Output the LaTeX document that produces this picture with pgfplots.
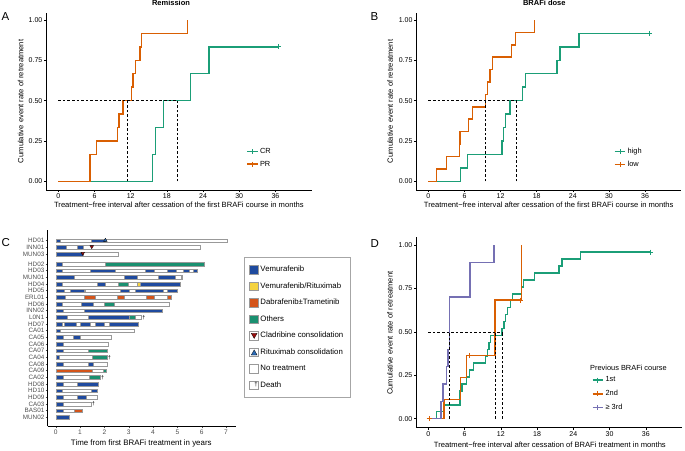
\documentclass[border=0pt]{standalone}
\usepackage{fontspec}
\setmainfont{Liberation Sans}
\usepackage{pgfplots}
\usepackage{pgfplotstable}
\pgfplotsset{compat=1.18}

\definecolor{kmgreen}{HTML}{1B9E77}
\definecolor{kmorange}{HTML}{D95F02}
\definecolor{kmpurple}{HTML}{7570B3}
\definecolor{vem}{HTML}{1F4A9E}
\definecolor{yel}{HTML}{F5D33F}
\definecolor{dab}{HTML}{D4541A}
\definecolor{oth}{HTML}{1A9070}
\definecolor{clad}{HTML}{9E0E0E}
\definecolor{ritux}{HTML}{2B6CB8}
\definecolor{rowgray}{HTML}{4D4D4D}

% ---------- panel C segments (row y, start, end in years) ----------
\pgfplotstableread{
y x0 x1
27.5 0 7.05
26.5 0 5.95
25.5 0 2.55
24 0 6.12
23 0 5.81
22 0 5.19
21 0 5.10
20 0 5.00
19 0 4.74
18 0 4.66
17 0 4.37
16 0 3.50
15 0 3.40
14 0 3.21
13 0 2.26
12 0 2.15
11 0 2.12
10 0 2.11
9 0 2.10
8 0 2.07
7 0 1.82
6 0 1.74
5 0 1.71
4 0 1.70
3 0 1.44
2 0 1.08
1 0 0.55
}\whitetab

\pgfplotstableread{
y x0 x1
27.5 0 0.18
27.5 1.46 2.04
26.5 0 0.42
26.5 0.86 1.14
25.5 0 1.11
24 0 0.25
23 0 0.25
23 1.41 2.43
23 3.68 4.05
23 4.60 4.95
23 5.22 5.50
23 5.63 5.81
22 0 0.75
22 2.81 3.33
22 4.22 4.90
22 5.15 5.19
21 0 0.26
21 1.70 2.05
21 3.45 5.10
20 0 0.36
20 0.60 1.16
20 2.66 3.03
20 3.27 4.42
20 4.60 5.00
19 0 0.40
18 0 0.26
18 1.05 1.53
17 0 0.32
17 1.15 4.37
16 0 0.45
16 1.35 3.02
15 0 0.27
15 0.36 0.82
15 1.00 1.40
15 1.64 1.97
15 2.19 3.40
14 0 0.18
13 0 0.32
13 0.73 1.00
12 0 0.32
11 0 0.32
10 0 0.16
9 0 0.32
9 1.34 1.53
7 0 0.32
6 0 0.32
6 0.88 1.74
5 0 0.26
5 1.45 1.71
4 0 0.29
4 0.89 1.27
3 0 0.32
2 0 0.32
1 0 0.55
}\vemtab

\pgfplotstableread{
y x0 x1
21 3.33 3.45
20 1.16 1.22
}\yeltab

\pgfplotstableread{
y x0 x1
19 1.17 1.63
19 2.51 2.82
19 3.70 4.05
19 4.60 4.74
8 0 1.51
2 0.74 1.08
}\dabtab

\pgfplotstableread{
y x0 x1
24 2.02 6.12
21 2.56 2.98
18 1.98 2.39
16 3.02 3.26
11 1.33 2.12
10 1.49 2.11
8 1.95 2.07
7 1.37 1.82
}\othtab

\newcommand{\drawsegs}[2]{%
  \pgfplotstablegetrowsof{#1}%
  \pgfmathtruncatemacro{\nseg}{\pgfplotsretval-1}%
  \foreach \k in {0,...,\nseg}{%
    \pgfplotstablegetelem{\k}{y}\of{#1}\let\sy\pgfplotsretval
    \pgfplotstablegetelem{\k}{x0}\of{#1}\let\sa\pgfplotsretval
    \pgfplotstablegetelem{\k}{x1}\of{#1}\let\sb\pgfplotsretval
    \pgfmathsetmacro{\slo}{\sy-0.29}%
    \pgfmathsetmacro{\shi}{\sy+0.29}%
    \edef\temp{\noexpand\addplot[#2] coordinates {(\sa,\slo) (\sb,\slo) (\sb,\shi) (\sa,\shi)} -- cycle;}%
    \temp
  }%
}

\pgfplotsset{
  km/.style={
    scale only axis, anchor=south west,
    axis x line*=bottom, axis y line*=left,
    axis line style={-, line width=0.5pt},
    tick align=outside, major tick length=2.2pt,
    every tick/.style={black, line width=0.5pt},
    xmin=-2, xmax=42,
    xtick={0,6,12,18,24,30,36},
    ytick={0,0.25,0.5,0.75,1},
    yticklabels={0.00,0.25,0.50,0.75,1.00},
    ticklabel style={font=\fontsize{7}{8}\selectfont, inner sep=1.5pt},
    /pgf/number format/assume math mode=true,
    label style={font=\fontsize{7.6}{9}\selectfont},
    clip=false,
    legend cell align=left,
    legend image code/.code={\draw[##1, mark repeat=2, mark phase=2] plot coordinates {(0pt,0pt) (5.4pt,0pt) (10.8pt,0pt)};},
    legend style={draw=none, fill=none, inner sep=0pt, anchor=north west, font=\fontsize{7.4}{8}\selectfont, row sep=3pt, nodes={inner sep=1.5pt}},
  },
  kmline/.style={line width=1.5pt, const plot, forget plot},
  cens/.style={only marks, mark=+, mark size=2.5pt, line width=1pt, forget plot},
  kmkey/.style={line width=1.5pt, mark=+, mark size=2.5pt, mark options={line width=1pt}},
  med/.style={black, line width=0.6pt, dash pattern=on 2.6pt off 2pt, forget plot},
  segw/.style={fill=white, draw=gray!80, line width=0.4pt, forget plot},
  segvem/.style={fill=vem, draw=gray!80, line width=0.3pt, forget plot},
  segyel/.style={fill=yel, draw=gray!80, line width=0.3pt, forget plot},
  segdab/.style={fill=dab, draw=gray!80, line width=0.3pt, forget plot},
  segoth/.style={fill=oth, draw=gray!80, line width=0.3pt, forget plot},
}

\begin{document}
\begin{tikzpicture}
\useasboundingbox (0pt,0pt) rectangle (685pt,450pt);

% ================= Panel A =================
\begin{axis}[km, at={(46.2pt,260pt)}, width=265.4pt, height=177.3pt,
  ymin=-0.054, ymax=1.045,
  xlabel={Treatment\textminus free interval after cessation of the first BRAFi course in months},
  ylabel={Cumulative event rate of retreatment},
  xlabel style={at={(axis description cs:0.5,-0.1015)}, anchor=base},
  ylabel style={at={(axis description cs:-0.096,0.5)}, anchor=center},
  legend style={at={(axis description cs:0.753,0.245)}},
]
\addplot[kmgreen, kmline] table {
x y
0 0
15.6 0.1667
16.15 0.3333
17.48 0.5
21.9 0.6667
25.0 0.8333
36.56 0.8333
};
\addplot[kmgreen, cens] coordinates {(36.56,0.8333)};
\addplot[kmorange, kmline] table {
x y
0 0
5.25 0.1667
6.36 0.25
9.8 0.3333
10.1 0.4167
10.7 0.5
12.17 0.5833
12.4 0.6667
12.8 0.75
13.55 0.8333
13.77 0.9167
21.4 1.0
};
\addplot[med] coordinates {(0,0.5) (19.69,0.5)};
\addplot[med] coordinates {(11.43,0) (11.43,0.5)};
\addplot[med] coordinates {(19.69,0) (19.69,0.5)};
\addlegendimage{color=kmgreen, kmkey}
\addlegendentry{CR}
\addlegendimage{color=kmorange, kmkey}
\addlegendentry{PR}
\end{axis}

% ================= Panel B =================
\begin{axis}[km, at={(416.3pt,260pt)}, width=264.9pt, height=177.3pt,
  ymin=-0.054, ymax=1.045,
  xlabel={Treatment\textminus free interval after cessation of the first BRAFi course in months},
  ylabel={Cumulative event rate of retreatment},
  xlabel style={at={(axis description cs:0.5,-0.1015)}, anchor=base},
  ylabel style={at={(axis description cs:-0.099,0.5)}, anchor=center},
  legend style={at={(axis description cs:0.745,0.245)}},
]
\addplot[kmgreen, kmline] table {
x y
0 0
5.37 0.0833
6.48 0.1667
12.24 0.25
12.46 0.3333
12.85 0.4167
13.57 0.5
15.6 0.5833
16.1 0.6667
21.4 0.75
21.9 0.8333
25.0 0.9167
36.8 0.9167
};
\addplot[kmgreen, cens] coordinates {(36.8,0.9167)};
\addplot[kmorange, kmline] table {
x y
0 0
1.38 0.0769
3.05 0.1538
5.15 0.2308
5.26 0.3077
6.7 0.3846
7.36 0.4615
9.47 0.5385
9.86 0.6154
10.24 0.6923
10.69 0.7692
13.79 0.8462
14.5 0.9231
17.6 1.0
};
\addplot[med] coordinates {(0,0.5) (14.59,0.5)};
\addplot[med] coordinates {(9.47,0) (9.47,0.5)};
\addplot[med] coordinates {(14.59,0) (14.59,0.5)};
\addlegendimage{color=kmgreen, kmkey}
\addlegendentry{high}
\addlegendimage{color=kmorange, kmkey}
\addlegendentry{low}
\end{axis}

% ================= Panel D =================
\begin{axis}[km, at={(416.2pt,22.7pt)}, width=265.8pt, height=189.9pt,
  ymin=-0.05, ymax=1.045,
  xlabel={Treatment\textminus free interval after cessation of BRAFi treatment in months},
  ylabel={Cumulative event rate of retreatment},
  xlabel style={at={(axis description cs:0.503,-0.104)}, anchor=base},
  ylabel style={at={(axis description cs:-0.0986,0.496)}, anchor=center},
  legend style={at={(axis description cs:0.66,0.275)}, row sep=4pt},
]
\addplot[kmgreen, kmline] table {
x y
0 0
1.38 0.04
2.48 0.08
5.24 0.16
5.57 0.20
6.35 0.24
6.79 0.28
7.45 0.32
9.49 0.36
9.82 0.40
10.04 0.44
10.3 0.48
12.2 0.52
12.5 0.56
12.8 0.60
13.1 0.64
13.6 0.68
13.9 0.72
15.4 0.76
15.8 0.80
17.6 0.84
21.6 0.88
22.1 0.92
25.2 0.96
36.8 0.96
};
\addplot[kmgreen, cens] coordinates {(36.8,0.96)};
\addplot[kmorange, kmline] table {
x y
0 0
2.6 0.111
5.35 0.238
6.35 0.365
11.08 0.683
15.45 1.0
};
\addplot[kmorange, cens] coordinates {(0.15,0) (6.75,0.365) (15.2,0.683)};
\addplot[kmpurple, kmline] table {
x y
0 0
2.1 0.1
2.45 0.2
3.0 0.3
3.3 0.4
3.5 0.7
6.9 0.9
10.9 1.0
};
\addplot[med] coordinates {(0,0.5) (12.2,0.5)};
\addplot[med] coordinates {(3.5,0) (3.5,0.5)};
\addplot[med] coordinates {(11.08,0) (11.08,0.5)};
\addplot[med] coordinates {(12.2,0) (12.2,0.5)};
\addlegendimage{color=kmgreen, kmkey}
\addlegendentry{1st}
\addlegendimage{color=kmorange, kmkey}
\addlegendentry{2nd}
\addlegendimage{color=kmpurple, kmkey}
\addlegendentry{≥ 3rd}
\end{axis}

% ================= Panel C =================
\begin{axis}[scale only axis, anchor=south west, at={(47.7pt,23.7pt)},
  width=188.3pt, height=196.3pt,
  xmin=-0.33, xmax=7.41, ymin=-0.35, ymax=29.1,
  axis x line*=bottom, axis y line*=left,
  axis line style={-, line width=0.5pt},
  tick align=outside, major tick length=2pt,
  every tick/.style={rowgray, line width=0.4pt},
  xtick={0,1,2,3,4,5,6,7},
  ytick={27.5,26.5,25.5,24,23,22,21,20,19,18,17,16,15,14,13,12,11,10,9,8,7,6,5,4,3,2,1},
  yticklabels={HD01,INN01,MUN03,HD02,HD03,MUN01,HD04,HD05,ERL01,HD06,INN02,L0N1,HD07,CA01,CA05,CA06,CA07,CA04,CA08,CA09,CA02,HD08,HD10,HD09,CA03,BAS01,MUN02},
  yticklabel style={font=\fontsize{6.3}{7}\selectfont, text=rowgray, inner sep=1.2pt},
  xticklabel style={font=\fontsize{6.6}{7}\selectfont, text=rowgray, inner sep=1.5pt},
  /pgf/number format/assume math mode=true,
  xlabel={Time from first BRAFi treatment in years},
  xlabel style={font=\fontsize{7.9}{9}\selectfont, at={(axis description cs:0.497,-0.098)}, anchor=base},
  clip=false,
  legend cell align=left,
  legend style={at={(axis description cs:1.044,0.861)}, anchor=north west,
    draw=gray!70, fill=white, line width=0.4pt, font=\fontsize{7.8}{9}\selectfont,
    row sep=6.2pt, inner xsep=5pt, inner ysep=7pt, nodes={inner sep=1.6pt}},
]
\drawsegs{\whitetab}{segw}
\drawsegs{\vemtab}{segvem}
\drawsegs{\yeltab}{segyel}
\drawsegs{\dabtab}{segdab}
\drawsegs{\othtab}{segoth}
\addplot[only marks, mark=triangle*, mark size=2.1pt, mark options={fill=ritux, draw=black, line width=0.3pt}, forget plot] coordinates {(2.04,27.55)};
\addplot[only marks, mark=triangle*, mark size=2.1pt, mark options={rotate=180, fill=clad, draw=black, line width=0.3pt}, forget plot] coordinates {(1.48,26.6) (1.11,25.6)};
\addplot[only marks, mark=text, text mark={\fontsize{5.5}{6}\selectfont\textdagger}, forget plot] coordinates {(3.62,16) (2.21,10) (1.93,7) (1.55,3)};
\addlegendimage{legend image code/.code={\draw[fill=vem, draw=gray!80, line width=0.4pt] (0pt,-4.2pt) rectangle (9pt,4.2pt);}}
\addlegendentry{Vemurafenib}
\addlegendimage{legend image code/.code={\draw[fill=yel, draw=gray!80, line width=0.4pt] (0pt,-4.2pt) rectangle (9pt,4.2pt);}}
\addlegendentry{Vemurafenib/Rituximab}
\addlegendimage{legend image code/.code={\draw[fill=dab, draw=gray!80, line width=0.4pt] (0pt,-4.2pt) rectangle (9pt,4.2pt);}}
\addlegendentry{Dabrafenib±Trametinib}
\addlegendimage{legend image code/.code={\draw[fill=oth, draw=gray!80, line width=0.4pt] (0pt,-4.2pt) rectangle (9pt,4.2pt);}}
\addlegendentry{Others}
\addlegendimage{legend image code/.code={\draw[fill=white, draw=gray!80, line width=0.4pt] (0pt,-4.2pt) rectangle (9pt,4.2pt); \draw[fill=clad, draw=black, line width=0.3pt] (1.6pt,2.6pt)--(7.4pt,2.6pt)--(4.5pt,-2.6pt)--cycle;}}
\addlegendentry{Cladribine consolidation}
\addlegendimage{legend image code/.code={\draw[fill=white, draw=gray!80, line width=0.4pt] (0pt,-4.2pt) rectangle (9pt,4.2pt); \draw[fill=ritux, draw=black, line width=0.3pt] (1.6pt,-2.6pt)--(7.4pt,-2.6pt)--(4.5pt,2.6pt)--cycle;}}
\addlegendentry{Rituximab consolidation}
\addlegendimage{legend image code/.code={\draw[fill=white, draw=gray!80, line width=0.4pt] (0pt,-4.2pt) rectangle (9pt,4.2pt);}}
\addlegendentry{No treatment}
\addlegendimage{legend image code/.code={\draw[fill=white, draw=gray!80, line width=0.4pt] (0pt,-4.2pt) rectangle (9pt,4.2pt); \node[font=\fontsize{6}{6}\selectfont, inner sep=0pt] at (4.5pt,0pt) {\textdagger};}}
\addlegendentry{Death}
\end{axis}

% ================= titles and panel letters =================
\node[anchor=base, font=\bfseries\fontsize{7.5}{9}\selectfont] at (171pt,444.5pt) {Remission};
\node[anchor=base, font=\bfseries\fontsize{7.5}{9}\selectfont] at (544.3pt,444.5pt) {BRAFi dose};
\node[anchor=base west, inner sep=0pt, font=\fontsize{11.5}{12}\selectfont] at (1.5pt,429.3pt) {A};
\node[anchor=base west, inner sep=0pt, font=\fontsize{11.5}{12}\selectfont] at (370.5pt,429.3pt) {B};
\node[anchor=base west, inner sep=0pt, font=\fontsize{11.5}{12}\selectfont] at (1.5pt,203.3pt) {C};
\node[anchor=base west, inner sep=0pt, font=\fontsize{11.5}{12}\selectfont] at (370.5pt,202.3pt) {D};
\node[anchor=base west, inner sep=0pt, font=\fontsize{7.4}{8}\selectfont] at (590pt,79.3pt) {Previous BRAFi course};
\end{tikzpicture}
\end{document}
